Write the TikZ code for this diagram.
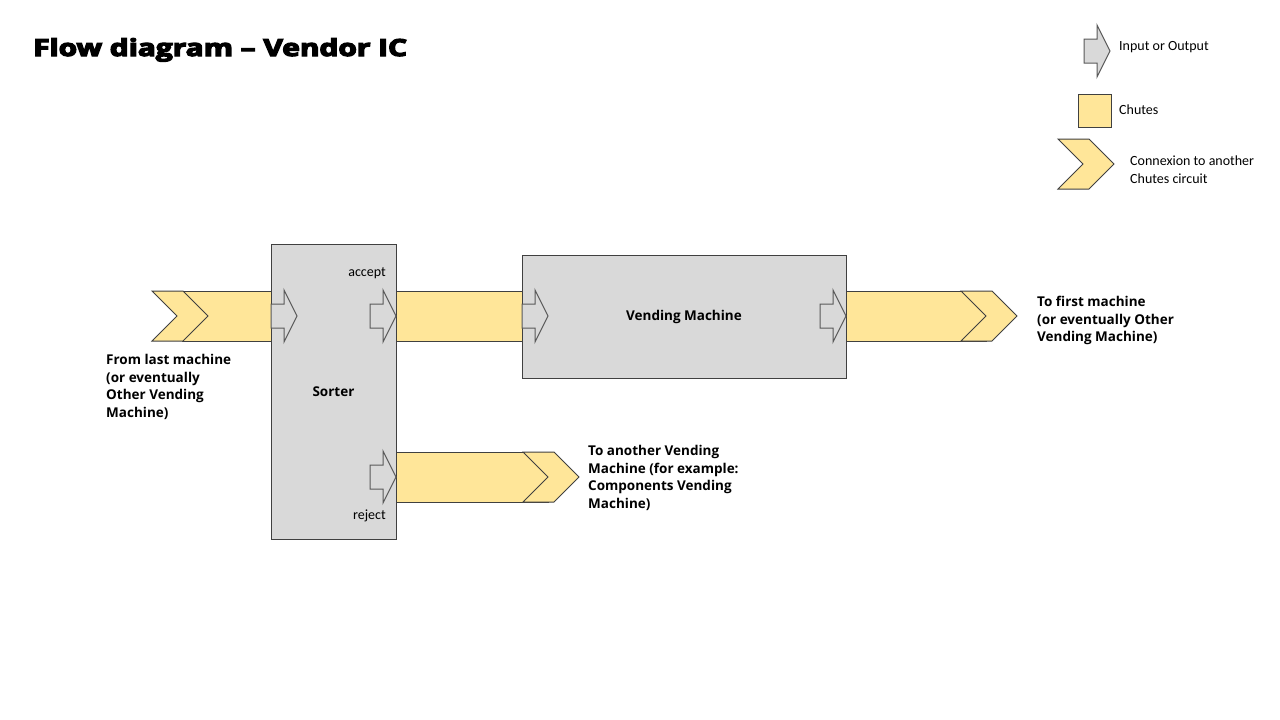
\documentclass[tikz,border=0pt]{standalone}
\usepackage{fontspec}
\setmainfont{Carlito}
\newfontfamily\labelfont{Open Sans}
\newfontfamily\titlefont{Open Sans}[FakeBold=5, BoldFeatures={FakeBold=5}]

\definecolor{chuteyellow}{HTML}{FFE699}
\definecolor{boxgray}{HTML}{D9D9D9}
\definecolor{edgegray}{HTML}{404040}
\definecolor{portgray}{HTML}{595959}

\tikzset{
  chute/.style = {draw = edgegray, fill = chuteyellow, line width = 1pt},
  port/.style = {draw = portgray, fill = boxgray, line width = 1pt},
  box/.style = {draw = edgegray, fill = boxgray, line width = 1pt, inner sep = 0pt,
    font = \labelfont\bfseries\fontsize{13.5}{17.6}\selectfont},
  lbl/.style = {font = \labelfont\bfseries\fontsize{13.5}{17.6}\selectfont,
    align = left, inner sep = 0pt, anchor = north west},
  small/.style = {font = \fontsize{14}{18}\selectfont, inner sep = 0pt, align = left}
}

\newcommand\chevronat[2]{\draw[chute] (#1,#2-25) -- ++(31,0) -- ++(25,25) -- ++(-25,25) -- ++(-31,0) -- ++(25,-25) -- cycle;}
\newcommand\portat[2]{\draw[port] (#1,#2-12) -- ++(13,0) -- ++(0,-14) -- ++(13,26) -- ++(-13,26) -- ++(0,-14) -- ++(-13,0) -- cycle;}

\begin{document}
\begin{tikzpicture}[x = 1pt, y = -1pt]
\useasboundingbox (0,0) rectangle (1280,720);

\node[anchor = base west, inner sep = 0pt] (title) at (33,56)
  {\scalebox{1.27}[1]{\titlefont\bfseries\fontsize{23.5}{28}\selectfont Flow diagram – Vendor IC}};

% legend
\portat{1084}{51}
\node[small, anchor = west] (io) at (1119,47) {Input or Output};
\draw[chute] (1078,94) rectangle (1111,127);
\node[small, anchor = west] (chutes) at (1119,110) {Chutes};
\chevronat{1058}{164}
\node[small, anchor = west] (conn) at (1130,170) {Connexion to another\\Chutes circuit};

% chutes
\draw[chute] (182,291) rectangle (271,341);
\chevronat{152}{316}
\draw[chute] (396,291) rectangle (522,341);
\draw[chute] (846,291) rectangle (986,341);
\chevronat{961}{316}
\draw[chute] (396,452) rectangle (548,502);
\chevronat{523}{477}

% machines
\node[box, minimum width = 125pt, minimum height = 295pt] (sorter) at (333.5,391.5) {Sorter};
\node[box, minimum width = 324pt, minimum height = 123pt] (vm) at (684,316.5) {Vending Machine};

\portat{271}{316}
\portat{370}{316}
\portat{370}{477}
\portat{522}{316}
\portat{820}{316}

\node[small, anchor = east] (accept) at (386,273) {accept};
\node[small, anchor = east] (reject) at (386,516) {reject};

\node[lbl] (from) at (106,354) {From last machine\\(or eventually\\Other Vending\\Machine)};
\node[lbl] (first) at (1037,296) {To first machine\\(or eventually Other\\Vending Machine)};
\node[lbl] (other) at (588,445) {To another Vending\\Machine (for example:\\Components Vending\\Machine)};
\end{tikzpicture}
\end{document}
